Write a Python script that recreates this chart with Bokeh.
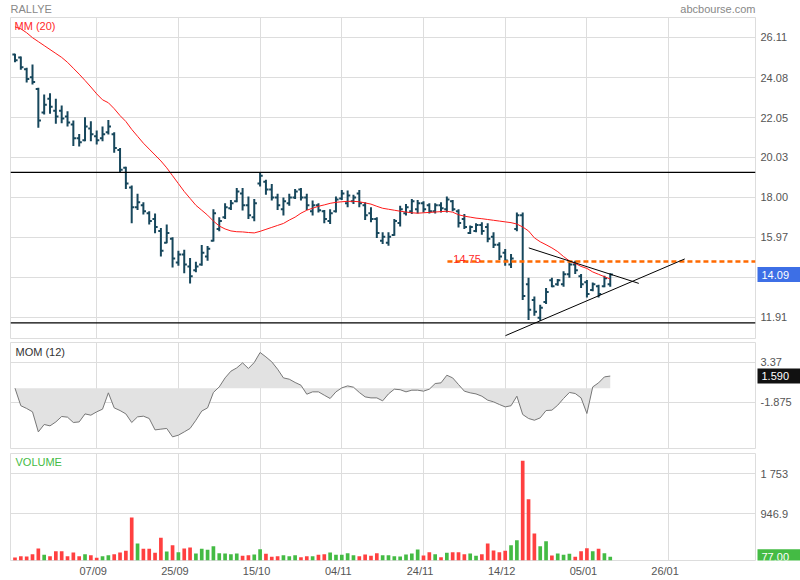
from bokeh.plotting import figure
from bokeh.layouts import column, row
from bokeh.models import Range1d, FixedTicker, Span, Label, ColumnDataSource
from bokeh.core.properties import value
from bokeh.embed import file_html
from bokeh.resources import INLINE

# ---------------- data ----------------
highs = [25.28, 25.15, 24.57, 24.74, 23.56, 23.22, 23.28, 23.00, 22.66, 22.37,
         21.90, 21.22, 22.07, 21.86, 21.39, 21.59, 21.93, 21.30, 20.51, 19.56,
         18.60, 18.18, 17.75, 17.30, 17.19, 16.45, 16.62, 15.98, 15.30, 15.34,
         14.93, 14.74, 15.59, 15.54, 17.40, 16.99, 17.70, 17.87, 18.48, 18.48,
         18.04, 17.92, 19.27, 18.89, 18.68, 18.18, 18.00, 18.18, 18.43, 18.48,
         18.18, 17.84, 17.70, 17.36, 17.40, 18.04, 18.38, 18.35, 18.14, 18.38,
         17.75, 17.50, 16.99, 16.23, 16.23, 16.91, 17.58, 17.67, 17.92, 17.87,
         17.80, 17.70, 17.70, 17.75, 18.04, 17.87, 17.40, 17.16, 16.57, 16.69,
         16.74, 16.69, 16.23, 15.72, 15.38, 15.13, 17.24, 17.24, 13.92, 12.97,
         12.56, 13.41, 13.92, 13.86, 14.25, 14.71, 14.79, 14.12, 13.81, 13.69,
         13.57, 14.03, 14.15]
lows = [24.86, 24.47, 23.83, 23.72, 21.53, 22.20, 22.24, 21.73, 21.76, 21.59,
        20.61, 20.58, 20.85, 20.85, 20.68, 20.85, 21.19, 20.27, 19.27, 18.43,
        16.69, 17.36, 17.13, 16.62, 16.18, 15.00, 15.67, 14.45, 14.54, 14.15,
        13.64, 14.20, 14.54, 14.79, 15.76, 16.28, 16.91, 17.36, 17.75, 17.33,
        16.91, 16.79, 18.55, 18.14, 17.84, 17.36, 17.08, 17.58, 17.92, 17.84,
        17.36, 17.08, 17.24, 16.69, 16.65, 17.24, 17.87, 17.50, 17.67, 17.50,
        16.86, 16.74, 15.94, 15.64, 15.55, 16.06, 16.52, 17.08, 17.16, 17.19,
        17.24, 17.19, 17.19, 17.24, 17.24, 17.30, 16.48, 16.40, 16.14, 16.23,
        16.11, 15.72, 15.43, 14.83, 14.54, 14.42, 16.28, 12.80, 11.78, 12.00,
        11.75, 12.60, 13.44, 13.52, 13.47, 13.92, 14.12, 13.41, 12.93, 13.24,
        12.93, 13.44, 13.47]
opens = [25.25, 25.10, 24.50, 24.10, 23.50, 22.30, 23.00, 22.40, 22.40, 22.10,
         21.70, 21.00, 20.90, 21.50, 21.10, 21.00, 21.30, 21.20, 20.40, 19.50,
         18.50, 17.50, 17.60, 17.20, 16.90, 16.30, 15.70, 15.90, 14.70, 15.10,
         14.50, 14.30, 14.60, 15.00, 15.80, 16.40, 17.00, 17.45, 17.80, 18.20,
         17.60, 17.00, 18.70, 18.80, 18.40, 18.00, 17.40, 17.70, 18.00, 18.40,
         18.00, 17.30, 17.60, 17.30, 16.80, 17.30, 17.95, 17.70, 17.80, 18.20,
         17.60, 17.20, 16.90, 15.80, 15.70, 16.10, 16.70, 17.20, 17.30, 17.40,
         17.70, 17.60, 17.30, 17.60, 17.40, 17.80, 17.30, 16.90, 16.20, 16.30,
         16.60, 16.50, 16.00, 15.60, 15.20, 14.60, 16.40, 17.10, 13.60, 12.80,
         11.90, 12.70, 13.80, 13.60, 13.60, 14.10, 14.60, 14.00, 13.70, 13.30,
         13.50, 13.50, 13.60]
closes = [24.95, 24.60, 24.00, 23.85, 21.90, 22.70, 22.60, 22.10, 22.00, 21.80,
          21.00, 20.80, 21.60, 21.20, 20.90, 21.20, 21.60, 20.50, 19.40, 18.70,
          17.50, 17.75, 17.30, 16.80, 16.50, 15.30, 16.20, 14.90, 15.10, 14.60,
          14.00, 14.50, 15.20, 15.40, 17.20, 16.80, 17.50, 17.70, 18.30, 17.60,
          17.10, 17.70, 19.10, 18.40, 18.00, 17.60, 17.80, 18.00, 18.30, 18.00,
          17.60, 17.60, 17.35, 16.90, 17.20, 17.90, 18.20, 18.10, 18.00, 17.70,
          17.10, 16.90, 16.20, 16.00, 16.00, 16.80, 17.40, 17.50, 17.80, 17.70,
          17.40, 17.30, 17.60, 17.45, 17.90, 17.40, 16.70, 16.50, 16.50, 16.60,
          16.30, 15.90, 15.60, 15.00, 14.80, 14.90, 17.10, 13.00, 12.30, 12.20,
          12.40, 13.20, 13.50, 13.80, 14.10, 14.60, 14.30, 13.60, 13.10, 13.60,
          13.10, 13.90, 14.09]
mm20 = [26.65, 26.55, 26.35, 26.10, 25.90, 25.70, 25.50, 25.30, 25.10, 24.85,
        24.55, 24.25, 23.93, 23.60, 23.25, 22.95, 22.80, 22.50, 22.15, 21.85,
        21.45, 21.10, 20.75, 20.45, 20.15, 19.85, 19.50, 19.10, 18.70, 18.30,
        17.95, 17.60, 17.35, 17.10, 16.80, 16.55, 16.40, 16.30, 16.26, 16.25,
        16.22, 16.20, 16.28, 16.38, 16.48, 16.58, 16.68, 16.85, 17.00, 17.20,
        17.35, 17.45, 17.55, 17.62, 17.70, 17.75, 17.78, 17.80, 17.80, 17.78,
        17.72, 17.66, 17.55, 17.45, 17.40, 17.35, 17.30, 17.26, 17.22, 17.20,
        17.22, 17.24, 17.26, 17.28, 17.30, 17.25, 17.12, 17.05, 17.00, 16.95,
        16.92, 16.88, 16.84, 16.80, 16.76, 16.72, 16.65, 16.50, 16.30, 15.95,
        15.75, 15.60, 15.44, 15.25, 15.00, 14.78, 14.65, 14.50, 14.40, 14.22,
        14.10, 13.98, 13.86]
mom12 = [0.00, -2.30, -2.66, -3.10, -5.73, -4.76, -4.94, -4.42, -3.71, -3.80,
         -4.50, -4.42, -3.37, -3.54, -3.10, -2.75, -0.61, -2.58, -2.93, -3.37,
         -4.50, -3.76, -3.67, -3.97, -5.47, -5.37, -5.28, -6.38, -6.16, -5.73,
         -5.28, -4.20, -3.00, -2.58, -0.56, 0.17, 1.35, 2.23, 2.66, 3.32,
         2.58, 3.37, 4.68, 4.10, 3.45, 2.49, 1.35, 1.18, 0.75, 0.39,
         -0.79, -0.48, -0.48, -0.92, -1.35, -0.48, 0.04, 0.30, 0.13, -0.56,
         -1.14, -1.27, -1.27, -1.66, -0.75, -0.13, -0.20, -0.48, -0.26, -0.26,
         -0.39, -0.13, 0.61, 0.70, 1.70, 1.35, 0.48, -0.39, -0.61, -0.75,
         -1.05, -1.57, -1.79, -2.14, -2.45, -2.30, -1.05, -3.45, -3.97, -4.20,
         -3.89, -2.93, -2.88, -2.23, -1.35, -0.56, -0.70, -1.27, -3.32, 0.17,
         0.70, 1.48, 1.59]
volumes = [60, 87, 80, 127, 241, 114, 87, 188, 188, 87,
           161, 87, 127, 107, 54, 87, 107, 127, 161, 195,
           867, 342, 235, 235, 154, 457, 181, 309, 168, 242,
           262, 141, 235, 215, 289, 148, 141, 127, 141, 94,
           107, 121, 228, 134, 74, 87, 107, 87, 107, 67,
           87, 87, 114, 127, 161, 114, 114, 148, 107, 87,
           121, 94, 148, 107, 107, 87, 80, 121, 141, 222,
           101, 168, 127, 67, 154, 168, 168, 127, 141, 94,
           127, 342, 201, 168, 195, 309, 410, 2008, 1236, 544,
           289, 390, 101, 141, 114, 134, 74, 188, 248, 188,
           235, 148, 77]

date_ticks = [14, 28, 42, 56, 70, 84, 98, 112]
date_labels = ["07/09", "25/09", "15/10", "04/11", "24/11", "14/12", "05/01", "26/01"]
price_ticks = [11.91, 13.94, 15.97, 18.00, 20.03, 22.05, 24.08, 26.11]
price_tick_labels = ["11.91", "", "15.97", "18.00", "20.03", "22.05", "24.08", "26.11"]
mom_ticks = [-1.875, 3.37]
mom_tick_labels = ["-1.875", "3.37"]
vol_ticks = [946.9, 1753.0]
vol_tick_labels = ["946.9", "1 753"]

support_levels = [19.27, 11.64]
resist_level = 14.75
resist_start = 74.1
trend_upper_x = [88.04, 106.89]
trend_upper_y = [15.44, 13.64]
trend_lower_x = [84.05, 114.77]
trend_lower_y = [10.99, 14.88]

# ---------------- styling ----------------
FONT = "Liberation Sans"
BAR = "#17475c"
GRID = "#dddddd"
LABEL_C = "#555555"
RED_V = "#ff4040"
GREEN_V = "#44bb44"
n = len(closes)
idx = list(range(n))
XR = Range1d(-0.77, 126.89)
FW = 745
SIDE_W = 44


def make_fig(fh, yr, top, bottom, yticks, xaxis=False):
    p = figure(frame_width=FW, frame_height=fh, x_range=XR, y_range=yr,
               output_backend="svg", toolbar_location=None, y_axis_location=None,
               x_axis_location="below" if xaxis else None,
               min_border_left=10, min_border_right=1, min_border_top=top,
               min_border_bottom=bottom)
    p.outline_line_color = GRID
    p.background_fill_color = "white"
    p.border_fill_color = "white"
    p.xgrid.ticker = FixedTicker(ticks=date_ticks)
    p.ygrid.ticker = FixedTicker(ticks=yticks)
    p.xgrid.grid_line_color = GRID
    p.ygrid.grid_line_color = GRID
    return p


def make_side(fh, yr, top, bottom, yticks, ylabels, last, last_text, bg):
    s = figure(frame_width=SIDE_W, frame_height=fh, x_range=Range1d(1, 1 + SIDE_W), y_range=yr,
               output_backend="svg", toolbar_location=None, x_axis_location=None,
               y_axis_location=None, min_border_left=0, min_border_right=0,
               min_border_top=top, min_border_bottom=bottom)
    s.outline_line_color = None
    s.grid.visible = False
    s.background_fill_color = "white"
    s.border_fill_color = "white"
    keep = [(t, l) for t, l in zip(yticks, ylabels) if l]
    s.text(x=[5] * len(keep), y=[t for t, _ in keep], text=[l for _, l in keep],
           text_font=value(FONT), text_font_size="11px", text_color=LABEL_C,
           text_baseline="middle", text_align="left")
    half = 7.5 * (yr.end - yr.start) / fh
    s.quad(left=[2], right=[1 + SIDE_W], bottom=[last - half], top=[last + half],
           fill_color=bg, line_color=None)
    s.text(x=[6], y=[last], text=[last_text], text_font=value(FONT), text_font_size="11px",
           text_color="white", text_baseline="middle", text_align="left")
    return s


def tag(p, x, y, text, color, align="left", size="11px"):
    p.add_layout(Label(x=x, y=y, text=text, text_color=color, text_align=align,
                       text_baseline="middle", text_font=FONT, text_font_size=size))


# ---- header ----
hdr = figure(frame_width=800, frame_height=16, x_range=Range1d(0, 800), y_range=Range1d(0, 16),
             output_backend="svg", toolbar_location=None, x_axis_location=None,
             y_axis_location=None, min_border=0)
hdr.outline_line_color = None
hdr.grid.visible = False
tag(hdr, 10, 7.5, "RALLYE", "#888888")
tag(hdr, 755, 7.5, "abcbourse.com", "#888888", align="right")

# ---- price panel ----
src = ColumnDataSource(dict(x=idx, xl=[i - 0.45 for i in idx], xr=[i + 0.45 for i in idx],
                            o=opens, h=highs, l=lows, c=closes, mm=mm20))
PR = Range1d(10.845, 27.124)
p1 = make_fig(321, PR, 1, 2, price_ticks)
for lv in support_levels:
    p1.add_layout(Span(location=lv, dimension="width", line_color="black", line_width=1.2))
p1.segment(x0="x", y0="l", x1="x", y1="h", source=src, line_color=BAR, line_width=2)
p1.segment(x0="xl", y0="o", x1="x", y1="o", source=src, line_color=BAR, line_width=2)
p1.segment(x0="x", y0="c", x1="xr", y1="c", source=src, line_color=BAR, line_width=2)
p1.line(x="x", y="mm", source=src, line_color="#ff1a1a", line_width=1)
p1.line(x=[resist_start, XR.end], y=[resist_level, resist_level], line_color="#ff6a00",
        line_width=2.5, line_dash="5 3")
p1.line(x=trend_upper_x, y=trend_upper_y, line_color="black", line_width=1)
p1.line(x=trend_lower_x, y=trend_lower_y, line_color="black", line_width=1)
p1.add_layout(Label(x=resist_start + 1.0, y=resist_level + 0.14, text=f"{resist_level:.2f}",
                    text_color="#ff2a2a", text_align="left", text_baseline="alphabetic",
                    text_font=FONT, text_font_size="11px"))
tag(p1, -0.085, 26.69, "MM (20)", "#ff2a2a")
s1 = make_side(321, PR, 1, 2, price_ticks, price_tick_labels, closes[-1],
               f"{closes[-1]:.2f}", "#3d6fe6")

# ---- momentum panel ----
MR = Range1d(-7.907, 5.99)
p2 = make_fig(106, MR, 2, 2, mom_ticks)
p2.varea(x=idx, y1=[0.0] * n, y2=mom12, fill_color="#e2e2e2")
p2.line(x=idx, y=mom12, line_color="#777777", line_width=1)
tag(p2, 0.087, 4.72, "MOM (12)", "#333333")
s2 = make_side(106, MR, 2, 2, mom_ticks, mom_tick_labels, mom12[-1],
               f"{mom12[-1]:.3f}", "#111111")

# ---- volume panel ----
vcolors = [RED_V if c < o else GREEN_V for o, c in zip(opens, closes)]
VR = Range1d(0, 2156)
p3 = make_fig(107, VR, 3, 20, vol_ticks, xaxis=True)
p3.vbar(x=idx, top=volumes, width=0.63, fill_color=vcolors, line_color=None)
lab_ticks = [t - 0.6 for t in date_ticks]
p3.xaxis.ticker = FixedTicker(ticks=lab_ticks)
p3.xaxis.major_label_overrides = dict(zip(lab_ticks, date_labels))
p3.xaxis.axis_line_color = None
p3.xaxis.major_tick_line_color = None
p3.xaxis.minor_tick_line_color = None
p3.xaxis.major_tick_out = 0
p3.xaxis.major_tick_in = 0
p3.xaxis.major_label_text_font = FONT
p3.xaxis.major_label_text_font_size = "11px"
p3.xaxis.major_label_text_color = LABEL_C
p3.xaxis.major_label_standoff = 4
tag(p3, 0.087, 1975, "VOLUME", "#44bb44")
s3 = make_side(107, VR, 3, 20, vol_ticks, vol_tick_labels, volumes[-1],
               f"{volumes[-1]:.2f}", "#44bb44")

layout = column(hdr, row(p1, s1), row(p2, s2), row(p3, s3))
open("out.html", "w").write(file_html(layout, INLINE))
